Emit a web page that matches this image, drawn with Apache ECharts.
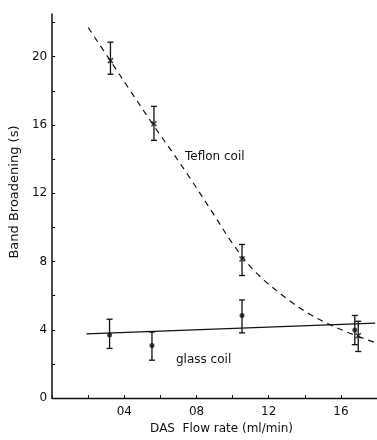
<!DOCTYPE html>
<html>
<head>
<meta charset="utf-8">
<script src="https://cdn.jsdelivr.net/npm/echarts@6/dist/echarts.min.js"></script>
<style>html,body{margin:0;padding:0;background:#fff}#c{width:377px;height:440px}</style>
</head>
<body>
<div id="c"></div>
<script>
// Teflon coil points: [flow rate, band broadening]
var teflonPts = [[0.323, 19.77], [0.564, 16.07], [1.052, 8.15], [1.696, 3.65]];
// Teflon error bars: [x, low, high]
var teflonErr = [[0.323, 18.97, 20.85], [0.564, 15.10, 17.09], [1.052, 7.18, 9.00], [1.696, 2.73, 4.50]];
// Glass coil points
var glassPts = [[0.318, 3.70], [0.553, 3.08], [1.052, 4.84], [1.677, 3.99]];
var glassErr = [[0.318, 2.91, 4.62], [0.553, 2.22, 3.87], [1.052, 3.82, 5.75], [1.677, 3.13, 4.84]];
// Fitted curves as drawn
var teflonCurve = [[0.2, 21.7], [0.32, 19.8], [0.43, 18.05], [0.56, 16.0], [0.66, 14.5], [0.76, 12.95], [0.89, 10.85], [1.0, 9.05], [1.13, 7.35], [1.31, 5.75], [1.43, 4.9], [1.53, 4.35], [1.65, 3.8], [1.79, 3.25]];
var glassLine = [[0.19, 3.76], [1.79, 4.39]];
// Tick labels
var xTickLabels = {"0.4": "04", "0.8": "08", "1.2": "12", "1.6": "16"};
var yTickLabels = {"0": "0", "4": "4", "8": "8", "12": "12", "16": "16", "20": "20"};

var FONT = 'DejaVu Sans';
var INK = '#111';

function errItem(params, api) {
  var x = api.value(0), lo = api.value(1), hi = api.value(2);
  var p1 = api.coord([x, lo]), p2 = api.coord([x, hi]);
  var w = 3;
  var st = {stroke: INK, lineWidth: 1.3};
  return {type: 'group', children: [
    {type: 'line', shape: {x1: p1[0], y1: p1[1], x2: p2[0], y2: p2[1]}, style: st},
    {type: 'line', shape: {x1: p1[0] - w, y1: p1[1], x2: p1[0] + w, y2: p1[1]}, style: st},
    {type: 'line', shape: {x1: p2[0] - w, y1: p2[1], x2: p2[0] + w, y2: p2[1]}, style: st}
  ]};
}

var chart = echarts.init(document.getElementById('c'), null, {renderer: 'canvas'});
chart.setOption({
  animation: false,
  backgroundColor: '#fff',
  grid: {left: 50, right: -2, top: 14, bottom: 31},
  xAxis: {
    type: 'value', min: 0, max: 1.8, interval: 0.2,
    name: 'DAS  Flow rate (ml/min)', nameLocation: 'middle', nameGap: 19,
    nameTextStyle: {fontFamily: FONT, fontSize: 12, color: INK, padding: [0, 0, 0, 14]},
    axisLine: {lineStyle: {color: INK, width: 1.3}},
    axisTick: {inside: true, length: 3, lineStyle: {color: INK}},
    splitLine: {show: false},
    axisLabel: {
      fontFamily: FONT, fontSize: 12, color: INK, margin: 8,
      showMaxLabel: false,
      formatter: function (v) { var k = (Math.round(v * 10) / 10).toString(); return xTickLabels[k] || ''; }
    }
  },
  yAxis: {
    type: 'value', min: 0, max: 22.5, interval: 2,
    name: 'Band Broadening (s)', nameLocation: 'middle', nameGap: 25,
    nameTextStyle: {fontFamily: FONT, fontSize: 13, color: INK, padding: [0, 0, 0, 28]},
    axisLine: {lineStyle: {color: INK, width: 1.5}},
    axisTick: {inside: true, length: 3, lineStyle: {color: INK}},
    splitLine: {show: false},
    axisLabel: {
      fontFamily: FONT, fontSize: 12, color: INK, margin: 5,
      showMaxLabel: false,
      formatter: function (v) { return yTickLabels[String(Math.round(v))] !== undefined && Math.abs(v - Math.round(v)) < 1e-6 ? yTickLabels[String(Math.round(v))] : ''; }
    }
  },
  graphic: [
    {type: 'text', left: 185, top: 151, style: {text: 'Teflon coil', font: '12px "DejaVu Sans"', fill: INK}},
    {type: 'text', left: 176, top: 354, style: {text: 'glass coil', font: '12px "DejaVu Sans"', fill: INK}}
  ],
  series: [
    {type: 'line', data: teflonCurve, smooth: 0.35, symbol: 'none',
     lineStyle: {color: INK, width: 1.2, type: [6, 5]}},
    {type: 'line', data: glassLine, symbol: 'none',
     lineStyle: {color: INK, width: 1.2}},
    {type: 'custom', renderItem: errItem, data: teflonErr, z: 3},
    {type: 'custom', renderItem: errItem, data: glassErr, z: 3},
    {type: 'scatter', data: teflonPts, symbol: 'path://M0,0L10,10M10,0L0,10', symbolSize: 5,
     itemStyle: {color: 'none', borderColor: INK, borderWidth: 1.5}, z: 4},
    {type: 'scatter', data: glassPts, symbol: 'circle', symbolSize: 5,
     itemStyle: {color: INK}, z: 4}
  ]
});
</script>
</body>
</html>
